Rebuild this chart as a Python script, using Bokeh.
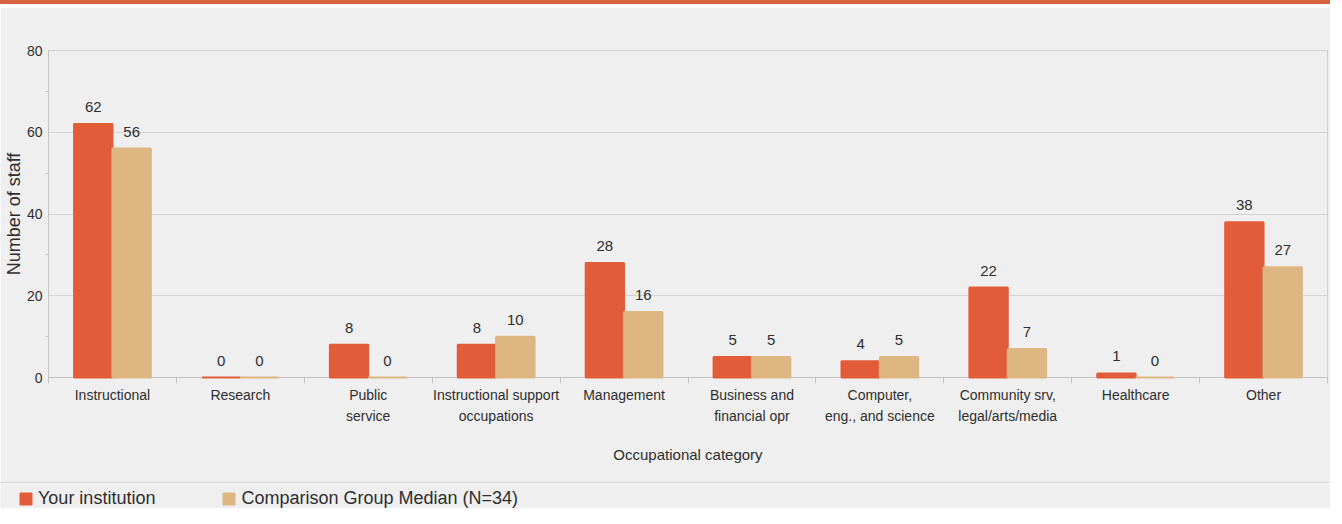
from bokeh.plotting import figure
from bokeh.models import (ColumnDataSource, Range1d, FixedTicker, Legend, LegendItem, Div)
from bokeh.layouts import column
from bokeh.transform import dodge
from bokeh.core.properties import value
from bokeh.embed import file_html
from bokeh.resources import INLINE

categories = ["Instructional", "Research", "Public\nservice",
              "Instructional support\noccupations", "Management",
              "Business and\nfinancial opr", "Computer,\neng., and science",
              "Community srv,\nlegal/arts/media", "Healthcare", "Other"]
your_institution = [62, 0, 8, 8, 28, 5, 4, 22, 1, 38]
comparison_median = [56, 0, 0, 10, 16, 5, 5, 7, 0, 27]
y_ticks = [0, 20, 40, 60, 80]
y_minor = [10, 30, 50, 70]
series_names = ["Your institution", "Comparison Group Median (N=34)"]

RED = "#E25C3A"
TAN = "#DEB682"
STRIPE = "#D9623E"
BG = "#EFEFEF"
TXT = "#2E2E2E"
FONT = "'Liberation Sans', Arial, sans-serif"

n = len(categories)
xs = [i + 0.5 for i in range(n)]
src = ColumnDataSource(dict(
    x=xs,
    your=your_institution,
    comp=comparison_median,
    your_lbl=[str(v) for v in your_institution],
    comp_lbl=[str(v) for v in comparison_median],
))

p = figure(width=1330, height=475, x_range=Range1d(0, n), y_range=Range1d(0, 80),
           output_backend="svg", toolbar_location=None,
           min_border_left=47, min_border_right=3, min_border_top=43, min_border_bottom=105)
p.background_fill_color = BG
p.border_fill_color = BG
p.outline_line_color = "#CFCFCF"

r1 = p.vbar(x=dodge("x", -0.15, range=p.x_range), top="your", bottom=0, width=0.3,
            fill_color=RED, line_color=RED, line_width=2, source=src, level="annotation")
r2 = p.vbar(x=dodge("x", 0.15, range=p.x_range), top="comp", bottom=0, width=0.3,
            fill_color=TAN, line_color=TAN, line_width=2, source=src, level="annotation")

p.text(x=dodge("x", -0.15, range=p.x_range), y="your", text="your_lbl", source=src,
       text_align="center", text_baseline="middle", y_offset=-17,
       text_font=value(FONT), text_font_size="15px", text_color=TXT)
p.text(x=dodge("x", 0.15, range=p.x_range), y="comp", text="comp_lbl", source=src,
       text_align="center", text_baseline="middle", y_offset=-17,
       text_font=value(FONT), text_font_size="15px", text_color=TXT)

# x axis
xa = p.xaxis[0]
xa.ticker = FixedTicker(ticks=xs, minor_ticks=list(range(n + 1)))
xa.major_label_overrides = {x: c for x, c in zip(xs, categories)}
xa.major_tick_line_color = None
xa.major_tick_out = 0
xa.major_tick_in = 0
xa.minor_tick_out = 6
xa.minor_tick_in = 0
xa.minor_tick_line_color = "#C4C4C4"
xa.axis_line_color = "#C4C4C4"
xa.major_label_standoff = 3
xa.major_label_text_font = FONT
xa.major_label_text_font_size = "14px"
xa.major_label_text_line_height = 1.35
xa.major_label_text_color = TXT
xa.axis_label = "Occupational category"
xa.axis_label_text_font = FONT
xa.axis_label_text_font_size = "15px"
xa.axis_label_text_font_style = "normal"
xa.axis_label_text_color = TXT
xa.axis_label_standoff = 19

# y axis
ya = p.yaxis[0]
ya.ticker = FixedTicker(ticks=y_ticks, minor_ticks=y_minor)
ya.major_tick_out = 0
ya.major_tick_in = 0
ya.minor_tick_out = 3
ya.minor_tick_in = 0
ya.minor_tick_line_color = "#C4C4C4"
ya.axis_line_color = "#C4C4C4"
ya.major_label_standoff = 3
ya.major_label_text_font = FONT
ya.major_label_text_font_size = "14px"
ya.major_label_text_color = TXT
ya.axis_label = "Number of staff"
ya.axis_label_text_font = FONT
ya.axis_label_text_font_size = "18px"
ya.axis_label_text_font_style = "normal"
ya.axis_label_text_color = TXT
ya.axis_label_standoff = 0

p.xgrid.grid_line_color = None
p.ygrid.grid_line_color = "#D3D3D3"
p.ygrid.ticker = FixedTicker(ticks=y_ticks)

# legend strip: a small figure under a separator line
lf = figure(width=1330, height=25, x_range=Range1d(0, 1), y_range=Range1d(0, 1),
            output_backend="svg", toolbar_location=None,
            x_axis_type=None, y_axis_type=None,
            min_border_left=0, min_border_right=0, min_border_top=0, min_border_bottom=0)
lf.background_fill_color = BG
lf.border_fill_color = BG
lf.outline_line_color = None
lf.grid.grid_line_color = None
for fig in (p, lf):
    if "frame_align" in fig.properties():
        fig.frame_align = False

l1 = lf.vbar(x="x", top="your", width=0.3, fill_color=RED, line_color=RED,
             source=src, visible=False)
l2 = lf.vbar(x="x", top="comp", width=0.3, fill_color=TAN, line_color=TAN,
             source=src, visible=False)
legend = Legend(items=[LegendItem(label=series_names[0], renderers=[l1]),
                       LegendItem(label=series_names[1], renderers=[l2])],
                orientation="horizontal", location=(18, -1),
                glyph_width=15, glyph_height=15, label_standoff=5, spacing=66,
                padding=0, margin=0, border_line_color=None,
                background_fill_alpha=0, inactive_fill_alpha=0,
                label_text_font=FONT, label_text_font_size="18px",
                label_text_color=TXT)
lf.add_layout(legend)

stripe = Div(text="", width=1330, height=4, margin=(0, 0, 3, 0),
             styles={"background-color": STRIPE})
separator = Div(text="", width=1330, height=1, margin=(0, 0, 0, 0),
                styles={"background-color": "#D4D4D4"})

layout = column(stripe, p, separator, lf, spacing=0)

with open("out.html", "w") as f:
    f.write(file_html(layout, INLINE))
